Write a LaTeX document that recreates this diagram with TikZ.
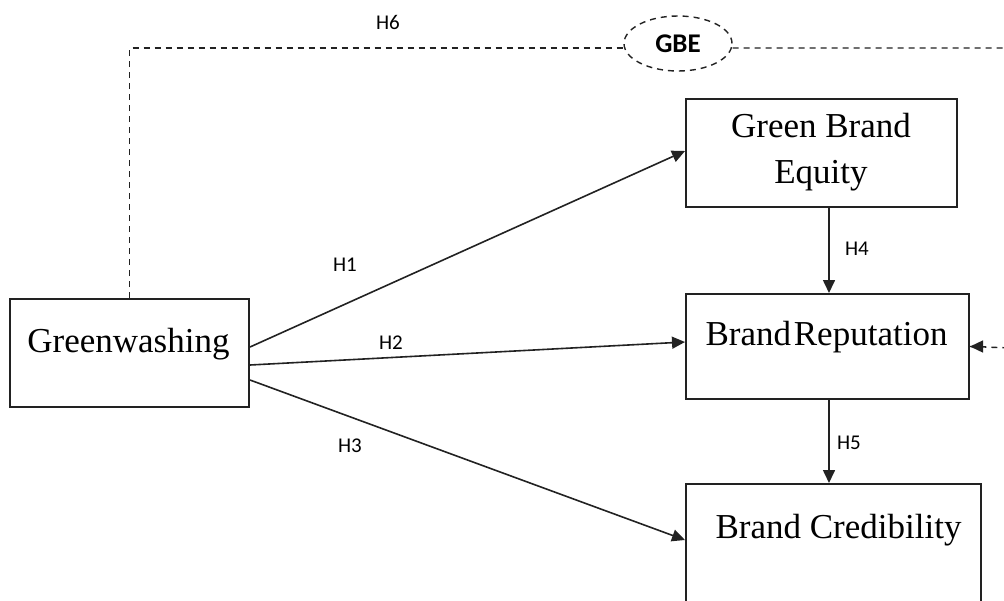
\documentclass[tikz,border=0pt]{standalone}
\usepackage{fontspec}
\setmainfont{Liberation Serif}
\newfontfamily\lblfont{Carlito}
\usetikzlibrary{arrows.meta,shapes.geometric}
\definecolor{ink}{HTML}{222222}
\tikzset{
  box/.style={draw=ink, line width=2pt, rectangle, inner sep=0pt},
  boxtext/.style={font=\fontsize{35}{46}\selectfont, anchor=base, inner sep=0pt, text=black, align=center},
  hlabel/.style={font=\lblfont\fontsize{21}{24}\selectfont, text=black, inner sep=0pt},
  path arrow/.style={draw=ink, line width=1.6pt, -{Triangle[length=13pt,width=12pt]}},
  dashline/.style={draw=ink, line width=1.4pt, dash pattern=on 6pt off 5pt},
}
\begin{document}
\begin{tikzpicture}[x=1pt,y=-1pt]
\useasboundingbox (0,0) rectangle (1004,600);
\clip (0,0) rectangle (1004,600);
% boxes
\node[box, minimum width=239pt, minimum height=108pt] (gw) at (129.5,353) {};
\node[box, minimum width=271pt, minimum height=108pt] (gbeq) at (821.5,153) {};
\node[box, minimum width=283pt, minimum height=105pt] (br) at (827.5,346.5) {};
\node[box, minimum width=295pt, minimum height=140pt] (bc) at (833.5,554) {};
% box texts
\node[boxtext] (gwt) at (128.5,352) {Greenwashing};
\node[boxtext] (gbeqt) at (821,183) {Green Brand\\Equity};
\node[boxtext] (brt) at (826.5,345) {Brand\hspace{0.08em}Reputation};
\node[boxtext] (bct) at (838.5,538) {Brand Credibility};
% mediator ellipse
\node[ellipse, dashline, minimum width=108pt, minimum height=55pt, inner sep=0pt,
      font=\lblfont\bfseries\fontsize{27}{30}\selectfont] (gbe) at (678,43.5) {GBE};
% coordinates
\coordinate (top) at (129.5,48);
\coordinate (vx) at (829,0);
\coordinate (farR) at (1012,48);
\coordinate (farRd) at (1012,348);
% dashed mediation path
\draw[dashline] (gw.north) -- (top) -- (gbe.west |- top);
\draw[dashline] (gbe.east |- top) -- (farR) -- (farRd) -- (br.east);
\draw[draw=ink, line width=1.4pt, -{Triangle[length=13pt,width=12pt]}] ([xshift=16pt]br.east) -- (br.east);
% direct paths
\draw[path arrow] ([yshift=6pt]gw.east) -- ([yshift=2pt]gbeq.west);
\draw[path arrow] ([yshift=-12pt]gw.east) -- ([yshift=4.5pt]br.west);
\draw[path arrow] ([yshift=-27pt]gw.east) -- ([yshift=14pt]bc.west);
\draw[path arrow] (gbeq.south -| vx) -- (br.north -| vx);
\draw[path arrow] (br.south -| vx) -- (bc.north -| vx);
% labels
\node[hlabel] (h1) at (345,265) {H1};
\node[hlabel] (h2) at (391,343) {H2};
\node[hlabel] (h3) at (350,446) {H3};
\node[hlabel] (h4) at (857,249) {H4};
\node[hlabel] (h5) at (849,443) {H5};
\node[hlabel] (h6) at (388,22.5) {H6};
\end{tikzpicture}
\end{document}
